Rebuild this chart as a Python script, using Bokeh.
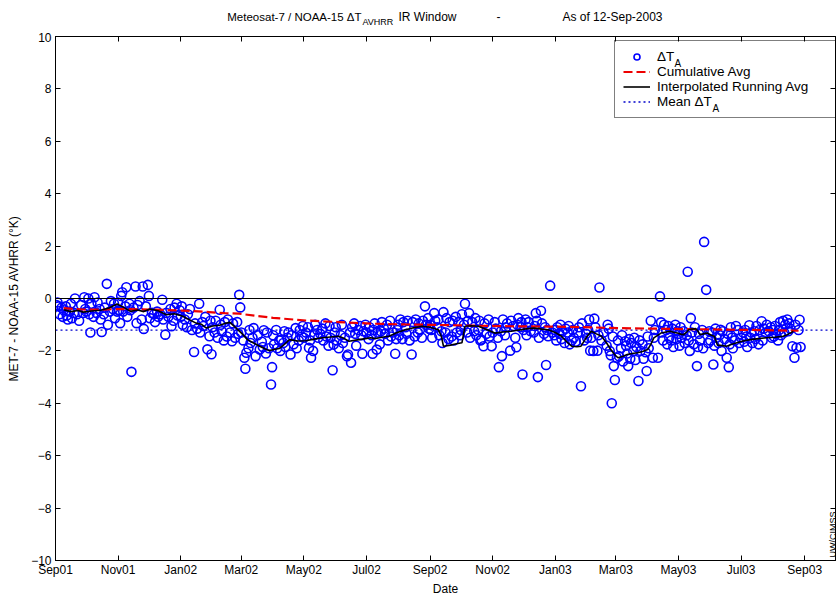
import math
import pandas as pd
from bokeh.plotting import figure
from bokeh.layouts import column
from bokeh.models import (Range1d, FixedTicker, DatetimeTickFormatter, DatetimeAxis, LinearAxis,
                          Span, Label, Legend, LegendItem, CustomLabelingPolicy)
from bokeh.embed import file_html
from bokeh.resources import INLINE

# ---------------- data ----------------
record_start = "2001-09-01"
x_start = "2001-09-01"
x_end = "2003-10-01"
y_min, y_max = -10, 10
y_ticks = [-10, -8, -6, -4, -2, 0, 2, 4, 6, 8, 10]
x_tick_dates = ["2001-09-01", "2001-11-01", "2002-01-01", "2002-03-01", "2002-05-01",
                "2002-07-01", "2002-09-01", "2002-11-01", "2003-01-01", "2003-03-01",
                "2003-05-01", "2003-07-01", "2003-09-01"]
mean_dt = -1.21

# observations: day offset from record_start, delta T (K)
obs_days = [
    1, 2, 3, 4, 6, 7, 8, 10, 11, 12, 14, 15, 16, 18, 19, 21, 23, 25, 27, 28, 29,
    30, 32, 33, 34, 35, 37, 38, 40, 41, 43, 44, 45, 47, 48, 50, 51, 53, 54, 56, 57, 58, 60,
    61, 62, 63, 64, 65, 66, 68, 69, 70, 72, 73, 74, 76, 78, 79, 80, 82, 84, 85, 86, 88, 90,
    91, 92, 94, 96, 97, 99, 100, 102, 104, 105, 107, 108, 110, 112, 113, 115, 116, 118, 119, 121,
    122, 123, 124, 126, 128, 129, 131, 133, 135, 136, 138, 140, 141, 143, 144, 146, 148, 150, 151, 152,
    153, 155, 156, 158, 160, 161, 162, 164, 165, 167, 168, 170, 172, 173, 175, 177, 178, 179, 180,
    181, 183, 184, 185, 186, 188, 189, 190, 192, 193, 195, 197, 199, 201, 202, 203, 205, 206, 208, 210, 211,
    212, 213, 215, 216, 218, 219, 220, 222, 223, 224, 226, 227, 229, 230, 232, 234, 235, 237, 238, 240, 241,
    242, 244, 246, 247, 248, 249, 251, 252, 253, 255, 256, 258, 260, 261, 263, 264, 266, 267, 268, 270, 271, 272,
    273, 274, 276, 278, 279, 280, 282, 284, 285, 287, 288, 289, 291, 292, 293, 295, 297, 298, 299, 300, 302,
    303, 305, 306, 308, 309, 310, 311, 313, 314, 316, 317, 318, 320, 321, 323, 324, 326, 327, 329, 331, 332, 333,
    334, 335, 336, 338, 339, 341, 342, 343, 345, 347, 348, 350, 351, 353, 354, 355, 357, 358, 360, 361, 363, 364,
    365, 366, 367, 369, 370, 372, 373, 374, 376, 377, 378, 380, 381, 383, 384, 386, 387, 388, 390, 391, 393, 394,
    395, 396, 398, 399, 401, 402, 403, 404, 406, 408, 409, 410, 412, 413, 414, 415, 417, 418, 420, 422, 423, 425,
    426, 428, 429, 431, 432, 434, 435, 436, 438, 439, 440, 443, 444, 446, 448, 449, 450, 451, 453, 454, 455,
    456, 458, 459, 460, 461, 463, 466, 467, 468, 469, 470, 471, 473, 474, 476, 477, 478, 479, 480, 482, 484, 486,
    487, 488, 489, 491, 492, 493, 494, 496, 497, 499, 500, 501, 503, 504, 505, 507, 509, 510, 512, 513, 515, 517,
    518, 519, 520, 521, 522, 524, 525, 526, 528, 529, 530, 532, 534, 537, 538, 539, 540, 541, 542, 543, 544, 545,
    547, 548, 549, 551, 552, 553, 555, 556, 557, 558, 559, 560, 561, 563, 564, 565, 566, 568, 569, 570, 572, 573, 575, 576,
    577, 578, 580, 582, 583, 584, 587, 589, 590, 591, 592, 593, 595, 596, 597, 598, 600, 601, 602, 604, 605, 606,
    607, 608, 609, 610, 612, 613, 615, 616, 617, 618, 619, 620, 622, 623, 625, 626, 627, 628, 630, 631, 632, 634, 636, 637,
    638, 640, 641, 642, 643, 644, 646, 647, 648, 649, 650, 652, 654, 655, 656, 657, 658, 659, 660, 662, 663, 665, 666,
    668, 670, 671, 672, 673, 674, 676, 677, 678, 679, 681, 682, 683, 685, 686, 688, 689, 690, 692, 693, 695, 697, 698,
    699, 700, 701, 702, 704, 705, 706, 707, 709, 710, 711, 713, 714, 715, 716, 718, 720, 721, 722, 724, 725, 726,
]
obs_vals = [
    -0.25, -0.15, -0.30, -0.60, -0.35, -0.70, -0.45, -0.30, -0.65, -0.80, -0.50, -0.20, -0.75, -0.55, 0.00, -0.60, -0.85, -0.25, -0.55, 0.05, -0.40,
    -0.50, 0.00, -0.60, -1.30, -0.20, -0.70, 0.05, -0.55, -0.15, -0.40, -0.80, -1.28, -0.60, -0.35, 0.56, -1.00, -0.50, -0.10, -0.40, -0.20, -0.75, -0.50,
    -0.15, -0.45, -0.94, 0.10, 0.24, -0.50, -0.30, 0.43, -0.70, -0.20, -0.45, -2.80, -0.35, 0.46, -0.94, -0.25, -0.10, -0.80, 0.46, -1.16, -0.30, 0.52,
    0.10, -0.75, -0.55, -0.60, -0.90, -0.50, -0.70, -0.60, -0.05, -0.80, -1.38, -0.55, -0.70, -0.40, -1.06, -0.85, -0.35, -0.20, -0.65, -0.45,
    -0.70, -0.30, -1.00, -0.80, -1.10, -0.60, -0.40, -1.20, -2.04, -0.95, -1.15, -0.20, -1.30, -0.90, -1.05, -0.70, -1.94, -1.44, -0.85, -2.13,
    -1.10, -1.30, -0.85, -1.50, -0.43, -1.00, -1.25, -1.60, -0.90, -1.45, -0.80, -1.30, -1.63, -0.95, -1.50, -0.90, -1.35, 0.14, -0.34,
    -1.30, -1.60, -2.26, -2.68, -2.07, -1.90, -1.20, -1.70, -1.50, -1.13, -2.20, -1.40, -1.95, -1.65, -1.85, -1.21, -2.10, -1.30, -1.90, -3.28, -2.62,
    -1.40, -1.75, -1.20, -1.90, -1.60, -2.00, -1.57, -1.70, -1.25, -1.85, -1.50, -1.30, -2.14, -1.40, -1.75, -1.13, -1.90, -1.60, -1.20, -1.45, -1.05,
    -1.50, -1.30, -1.10, -1.88, -1.60, -2.26, -2.00, -1.40, -1.00, -1.20, -1.50, -1.35, -1.15, -1.60, -0.95, -1.45, -1.80, -1.05, -1.50, -2.74, -1.76, -1.30,
    -1.10, -1.60, -1.90, -1.40, -1.00, -1.70, -1.50, -2.20, -2.14, -1.30, -2.45, -1.10, -0.95, -1.35, -1.80, -1.20, -1.05, -1.40, -2.11, -1.25, -1.00,
    -1.30, -1.55, -1.10, -1.40, -2.11, -1.20, -0.95, -1.95, -1.30, -1.75, -1.25, -0.90, -1.15, -1.35, -1.00, -1.60, -0.85, -1.45, -1.30, -2.11, -1.55, -1.20,
    -1.00, -1.40, -0.80, -1.55, -0.90, -1.10, -1.35, -0.85, -1.60, -2.14, -0.90, -1.45, -0.80, -1.30, -0.95, -1.20, -1.50, -0.85, -0.30, -1.00, -0.75, -1.15,
    -1.00, -1.20, -1.50, -0.56, -0.85, -1.10, -0.80, -1.40, -1.25, -1.70, -0.52, -1.30, -0.75, -1.55, -0.90, -1.45, -0.85, -1.60, -0.70, -1.30, -0.90, -1.40,
    -1.20, -0.60, -1.00, -0.20, -1.30, -0.85, -0.56, -1.50, -0.90, -1.25, -0.75, -1.40, -1.20, -0.85, -1.60, -1.57, -1.82, -0.95, -1.35, -0.80, -1.45, -1.82,
    -1.30, -0.90, -1.15, -1.50, -2.62, -1.25, -2.20, -0.80, -1.40, -1.10, -0.95, -1.99, -0.85, -1.05, -1.50, -1.86, -1.00, -0.75, -1.10, -0.90, -2.90,
    -1.20, -0.80, -1.40, -1.10, -0.90, -1.25, -1.30, -1.05, -0.56, -0.85, -3.00, -1.50, -0.47, -0.95, -1.35, -1.10, -2.54, -1.20, -1.44, 0.49, -1.30, -1.40,
    -1.20, -1.60, -1.10, -1.35, -1.00, -1.55, -1.25, -1.70, -1.15, -1.30, -1.05, -1.75, -1.60, -1.20, -1.50, -1.65, -1.30, -1.10, -3.35, -0.95, -1.60, -1.35,
    -1.50, -1.20, -0.80, -1.99, -1.50, -2.00, -0.77, -1.10, -1.99, -1.40, 0.42, -1.60, -1.30, -1.80, -1.00, -1.15, -2.00, -2.17, -4.00, -1.45, -2.58, -3.11,
    -2.26, -1.60, -2.20, -1.90, -1.40, -2.40, -1.63, -1.80, -2.10, -2.58, -1.55, -2.30, -1.70, -2.00, -1.50, -2.35, -1.85, -3.15, -1.60, -2.00, -1.75, -2.30, -2.05, -2.77,
    -1.45, -1.90, -0.85, -2.26, -1.50, -1.20, -2.26, 0.08, -0.91, -1.30, -1.60, -1.00, -1.20, -1.75, -1.05, -1.50, -1.60, -1.15, -1.85, -1.00, -1.55, -1.25,
    -1.35, -1.80, -1.10, -1.50, -1.25, -1.70, -1.40, 1.02, -1.60, -2.00, -0.75, -1.30, -1.75, -1.10, -2.58, -1.85, -1.35, -1.60, -1.20, -1.90, 2.16, 0.33, -1.70, -1.25,
    -1.60, -1.30, -2.52, -1.80, -1.15, -1.50, -1.70, -1.40, -1.19, -2.00, -1.25, -1.55, -2.26, -1.35, -2.62, -1.75, -1.10, -1.50, -1.90, -1.60, -1.05, -1.20, -1.70,
    -1.50, -1.30, -1.65, -1.20, -1.45, -1.85, -1.02, -1.50, -1.30, -1.70, -1.25, -1.55, -1.05, -1.75, -1.20, -0.87, -1.60, -1.15, -1.30, -1.00, -1.25, -1.10, -1.50,
    -1.20, -1.45, -1.05, -1.35, -1.60, -1.20, -0.90, -1.40, -0.85, -1.30, -1.00, -0.80, -1.25, -0.95, -1.15, -1.82, -2.26, -1.00, -1.88, -1.20, -0.81, -1.85,
]

# interpolated running average
run_days = [
    8, 15, 22, 27, 35, 44, 52, 60, 66, 73,
    80, 86, 92, 100, 108, 116, 124, 130, 137, 142,
    147, 153, 160, 165, 170, 176, 182, 187, 193, 199,
    204, 208, 213, 218, 223, 228, 236, 244, 252, 260,
    268, 276, 281, 286, 294, 302, 307, 312, 318, 325,
    333, 341, 349, 357, 365, 373, 376, 378, 385, 392,
    396, 399, 405, 412, 420, 428, 436, 444, 452, 460,
    467, 474, 480, 487, 493, 498, 503, 508, 512, 517,
    522, 527, 532, 537, 541, 545, 548, 553, 557, 562,
    567, 572, 577, 580, 583, 587, 590, 595, 599, 603,
    606, 609, 612, 615, 617, 620, 624, 626, 628, 632,
    635, 639, 642, 645, 650, 654, 659, 664, 670, 677,
    685, 693, 701, 709, 713, 716, 719,
]
run_vals = [
    -0.43, -0.50, -0.46, -0.52, -0.48, -0.45, -0.36, -0.21, -0.33, -0.49,
    -0.44, -0.50, -0.40, -0.47, -0.62, -0.58, -0.68, -0.80, -0.94, -0.98,
    -1.13, -1.05, -1.02, -0.95, -0.91, -1.13, -1.35, -1.57, -1.70, -1.82,
    -1.92, -1.99, -1.95, -1.91, -1.75, -1.57, -1.62, -1.61, -1.55, -1.50,
    -1.47, -1.44, -1.52, -1.63, -1.58, -1.53, -1.50, -1.53, -1.48, -1.44,
    -1.30, -1.19, -1.12, -1.06, -1.10, -1.19, -1.45, -1.82, -1.78, -1.72,
    -1.69, -1.06, -1.04, -1.06, -1.18, -1.32, -1.28, -1.25, -1.20, -1.15,
    -1.13, -1.17, -1.19, -1.30, -1.44, -1.65, -1.82, -1.84, -1.82, -1.50,
    -1.25, -1.35, -1.44, -1.70, -1.95, -2.15, -2.26, -2.20, -2.14, -2.10,
    -2.07, -2.02, -1.95, -1.75, -1.50, -1.40, -1.32, -1.28, -1.25, -1.30,
    -1.32, -1.36, -1.38, -1.28, -1.19, -1.17, -1.15, -1.25, -1.38, -1.34,
    -1.32, -1.40, -1.44, -1.78, -1.80, -1.82, -1.75, -1.69, -1.62, -1.57,
    -1.53, -1.50, -1.48, -1.44, -1.38, -1.32, -1.25,
]

# cumulative average
cum_days = [8, 27, 45, 60, 92, 124, 150, 165, 179, 195, 212, 244, 276, 308, 341,
            373, 412, 444, 480, 512, 548, 580, 620, 677, 724]
cum_vals = [-0.37, -0.42, -0.43, -0.40, -0.42, -0.46, -0.52, -0.56, -0.58, -0.66, -0.74,
            -0.84, -0.90, -0.96, -0.99, -1.01, -1.04, -1.06, -1.07, -1.09, -1.13, -1.15,
            -1.17, -1.20, -1.23]

assert len(obs_days) == len(obs_vals)
assert len(run_days) == len(run_vals)
assert len(cum_days) == len(cum_vals)

# ---------------- figure ----------------
FONT = "Liberation Sans"
W, TITLE_H, H = 840, 32, 566
LEFT = 55   # left border of the main plot (title strip frame is aligned with it)
base = pd.Timestamp(record_start)


def to_dates(days):
    return [base + pd.Timedelta(days=d) for d in days]


x0, x1 = pd.Timestamp(x_start), pd.Timestamp(x_end)

# title strip (separate tiny figure so that the subscript can be placed freely)
tf = figure(width=W, height=TITLE_H, x_range=Range1d(0, 1), y_range=Range1d(0, 1),
            x_axis_location=None, y_axis_location=None, title=None,
            output_backend="svg", toolbar_location=None, min_border=0)
tf.outline_line_color = None
tf.xgrid.visible = False
tf.ygrid.visible = False


def tlabel(fig, x, y, text, size, align="left", baseline="middle", angle=0.0, level="annotation"):
    fig.add_layout(Label(x=x, y=y, x_units="screen", y_units="screen", text=text,
                         text_font=FONT, text_font_size=size, text_align=align,
                         text_baseline=baseline, text_color="black", angle=angle, level=level))


tlabel(tf, 361 - LEFT, 16, "Meteosat-7 / NOAA-15 ΔT", "11.5px", align="right")
tlabel(tf, 362 - LEFT, 11, "AVHRR", "9px")
tlabel(tf, 398 - LEFT, 16, "IR Window", "12px")
tlabel(tf, 498 - LEFT, 16, "-", "12px", align="center")
tlabel(tf, 662 - LEFT, 16, "As of 12-Sep-2003", "12px", align="right")

p = figure(width=W, height=H, x_axis_type="datetime", title=None,
           x_range=Range1d(x0, x1), y_range=Range1d(y_min, y_max),
           output_backend="svg", toolbar_location=None,
           min_border_left=LEFT, min_border_right=2, min_border_top=0, min_border_bottom=38)
p.xgrid.visible = False
p.ygrid.visible = False
p.outline_line_color = "black"
p.background_fill_color = "white"
p.border_fill_color = "white"

tick_ms = [pd.Timestamp(d).value // 10**6 for d in x_tick_dates]
fmt = "%b%y"
dt_fmt = DatetimeTickFormatter(microseconds=fmt, milliseconds=fmt, seconds=fmt, minsec=fmt,
                               minutes=fmt, hourmin=fmt, hours=fmt, days=fmt, months=fmt, years=fmt)
no_labels = CustomLabelingPolicy(code="for (const i of indices) { indices.unset(i) }\nreturn indices")


def style_axis(ax):
    ax.major_tick_in = 5
    ax.major_tick_out = 0
    ax.minor_tick_in = 0
    ax.minor_tick_out = 0
    ax.axis_line_color = "black"
    ax.major_tick_line_color = "black"
    ax.major_label_text_font = FONT
    ax.major_label_text_font_size = "12px"
    ax.major_label_text_color = "black"
    ax.axis_label_text_font = FONT
    ax.axis_label_text_font_size = "12px"
    ax.axis_label_text_font_style = "normal"
    ax.axis_label_text_color = "black"


xa = p.xaxis[0]
xa.ticker = FixedTicker(ticks=tick_ms)
xa.formatter = dt_fmt
xa.axis_label = "Date"
style_axis(xa)
xa.major_label_standoff = 2
xa.axis_label_standoff = 2

ya = p.yaxis[0]
ya.ticker = FixedTicker(ticks=y_ticks)
ya.axis_label = "MET-7 - NOAA-15 AVHRR (°K)"
style_axis(ya)
ya.major_label_standoff = 4
ya.axis_label_standoff = 7

top = DatetimeAxis(ticker=FixedTicker(ticks=tick_ms), formatter=dt_fmt)
style_axis(top)
top.major_label_policy = no_labels
top.major_label_text_font_size = "1px"
top.major_label_standoff = 0
p.add_layout(top, "above")

right = LinearAxis(ticker=FixedTicker(ticks=y_ticks))
style_axis(right)
right.major_label_policy = no_labels
right.major_label_text_font_size = "1px"
right.major_label_standoff = 0
p.add_layout(right, "right")

p.add_layout(Span(location=0, dimension="width", line_color="black", line_width=1))

r_mean = p.line([x0, x1], [mean_dt, mean_dt], line_color="#0000cc", line_width=1.3, line_dash="2 3")
r_pts = p.scatter(to_dates(obs_days), obs_vals, marker="circle", size=9,
                  fill_color=None, line_color="#0000ff", line_width=1.6)
r_cum = p.line(to_dates(cum_days), cum_vals, line_color="#ee0000", line_width=2.2, line_dash="9 4")
r_run = p.line(to_dates(run_days), run_vals, line_color="black", line_width=1.6)

legend = Legend(items=[LegendItem(label="ΔT", renderers=[r_pts]),
                       LegendItem(label="Cumulative Avg", renderers=[r_cum]),
                       LegendItem(label="Interpolated Running Avg", renderers=[r_run]),
                       LegendItem(label="Mean ΔT", renderers=[r_mean])],
                location=(559, 442), orientation="vertical", padding=8, spacing=0,
                glyph_width=27, glyph_height=15, label_height=15, label_width=174,
                label_standoff=7, margin=0, border_line_color="black", border_line_width=1,
                background_fill_alpha=0.0,
                label_text_font=FONT, label_text_font_size="13.5px", label_text_color="black")
p.add_layout(legend)

# legend subscripts
tlabel(p, 619, 497, "A", "10px", level="overlay")
tlabel(p, 657, 452, "A", "10px", level="overlay")

# credit
tlabel(p, 782, 3, "UW/CIMSS", "9px", align="left", baseline="bottom", angle=math.pi / 2)

open("out.html", "w").write(file_html(column(tf, p), INLINE))
